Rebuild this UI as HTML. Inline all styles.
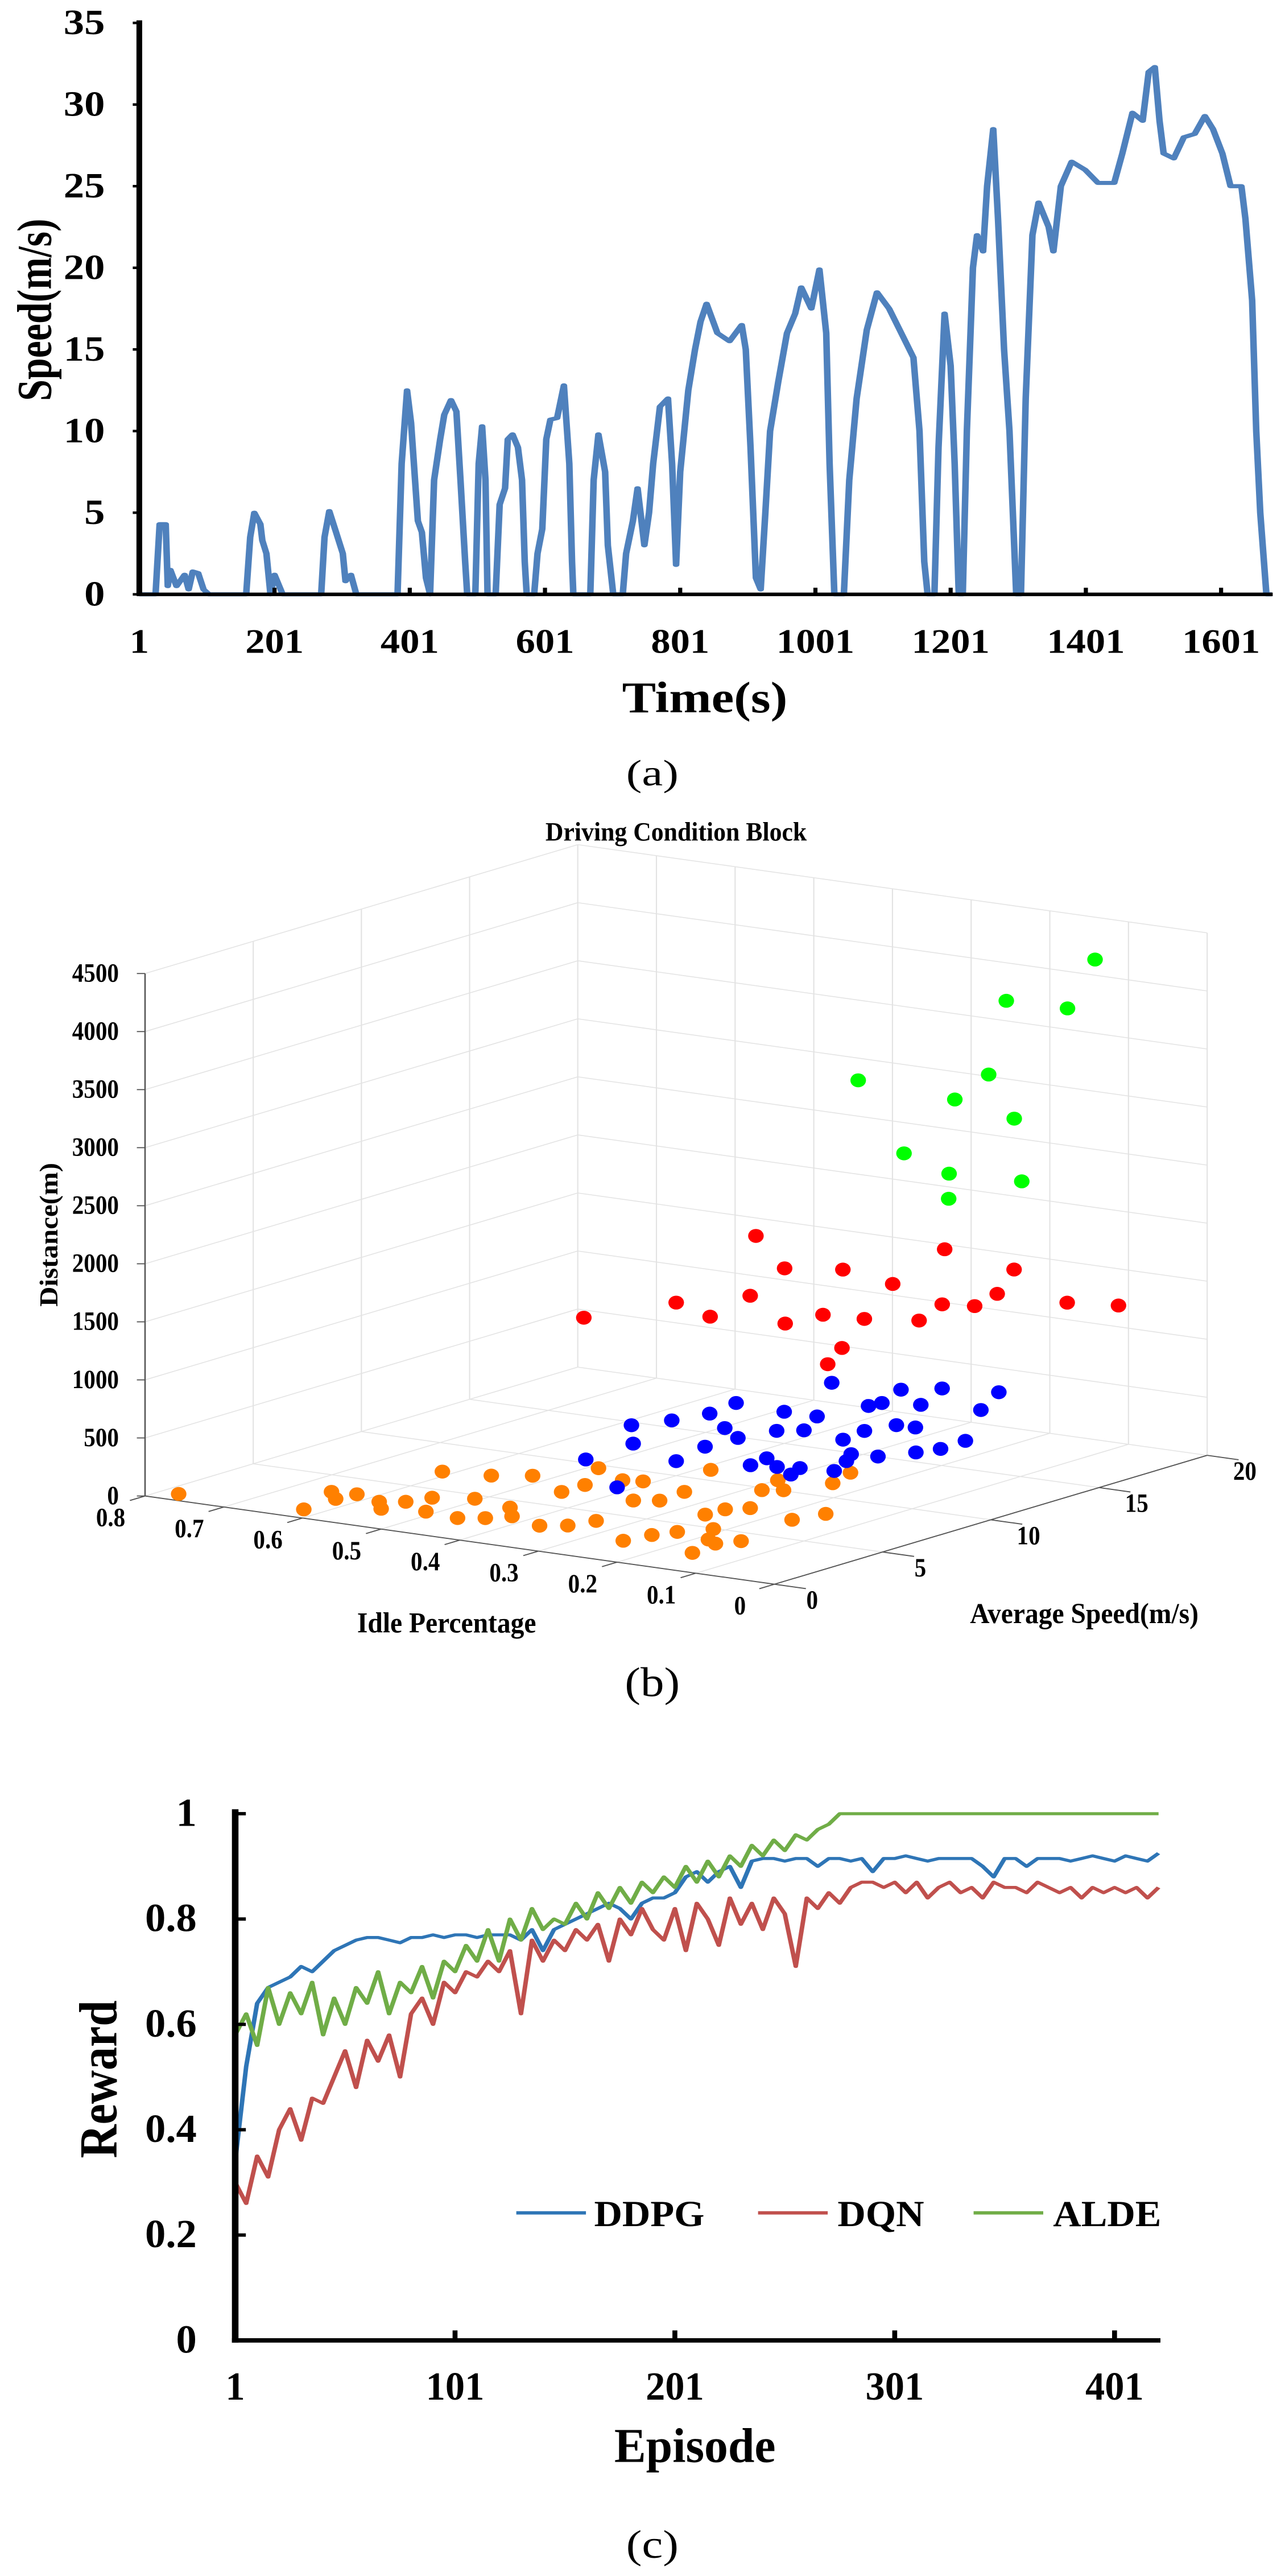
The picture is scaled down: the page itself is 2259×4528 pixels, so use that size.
<!DOCTYPE html>
<html><head><meta charset="utf-8"><style>
html,body{margin:0;padding:0;background:#fff;}
svg{display:block;}
text{font-family:"Liberation Serif",serif;fill:#000;}
</style></head><body>
<svg id="fig" width="2259" height="4528" viewBox="0 0 2259 4528" xmlns="http://www.w3.org/2000/svg">
<rect width="2259" height="4528" fill="#fff"/>
<g id="ga" transform="scale(1.4407,0.8929)"></g>
<g id="gb" transform="translate(0,1400) scale(1.4407,1.0204)"></g>
<g id="gc" transform="translate(0,3000) scale(1.4407,0.9745)"></g>
</svg>
<script>
// ---------- Chart (a) data ----------
const timeA=[1,25,31,40,43,47,56,68,74,80,88,96,104,159,165,171,180,183,189,195,201,213,270,275,282,292,302,306,314,322,383,389,397,403,413,419,425,431,437,446,452,462,470,476,483,486,498,503,508,513,516,528,534,542,546,553,561,567,571,574,585,590,597,603,609,619,629,637,641,643,668,673,680,690,694,702,716,721,731,738,748,755,761,771,783,789,795,801,813,823,831,840,856,874,892,898,905,913,920,927,934,946,959,971,980,995,1007,1017,1022,1029,1043,1051,1062,1077,1092,1110,1128,1146,1155,1162,1167,1177,1183,1192,1201,1207,1213,1219,1225,1234,1240,1249,1255,1264,1271,1280,1288,1298,1305,1312,1322,1331,1346,1353,1364,1380,1400,1419,1443,1455,1470,1485,1494,1503,1510,1516,1531,1546,1562,1577,1589,1603,1615,1631,1637,1647,1653,1659,1668,1676];
const speedA=[0,0,4.3,4.3,0.5,1.5,0.5,1.2,0.3,1.4,1.3,0.3,0,0,3.5,5,4.3,3.3,2.5,0,1.2,0,0,3.5,5.1,3.8,2.5,0.8,1.2,0,0,8,12.5,10.5,4.5,3.8,1,0,7,9.5,11,11.9,11.2,7,2,0,0,8,10.3,7,0,0,5.5,6.5,9.5,9.8,9,7,2,0,0,2.5,4,9.5,10.7,10.8,12.8,8,2,0,0,7,9.8,7.5,3,0,0,2.5,4.5,6.5,3,5,8,11.5,12,8,1.8,7.5,12.5,15,16.7,17.8,16,15.5,16.5,15,9,1,0.3,5,10,13,16,17.2,18.8,17.5,19.9,16,8,0,0,7,12,16.2,18.5,17.5,16,14.5,10,2,0,0,9,17.2,14,8,0,0,10,20,22,21,25,28.5,23,15,10,0,0,12,22,24,22.5,21,25,26.5,26,25.2,25.2,27,29.5,29,32,32.3,29,27,26.7,28,28.2,29.3,28.5,27,25,25,23,18,10,5,0,0];
const yTicksA=[0,5,10,15,20,25,30,35];
const xTicksA=[1,201,401,601,801,1001,1201,1401,1601];

// ---------- Chart (b) data ----------
const orangeIdle=[0.76,0.607,0.634,0.61,0.605,0.564,0.542,0.541,0.495,0.53,0.597,0.449,0.49,0.425,0.543,0.434,0.407,0.507,0.356,0.435,0.332,0.435,0.321,0.472,0.24,0.416,0.348,0.395,0.232,0.325,0.219,0.329,0.145,0.245,0.17,0.37,0.196,0.152,0.243,0.137,0.225,0.267,0.282,0.248,0.155,0.143,0.226,0.241];
const orangeSpeed=[0.1,0.32,2.58,1.9,2.7,2.24,1.53,2.63,1.89,3.45,6.36,1.68,3.97,2.09,6.66,3.56,2.67,7.26,2.09,5.98,2.52,7.06,3.43,9.03,1.74,8.11,6.13,8.29,2.77,6.51,3.47,7.8,1.48,5.71,3.13,10.51,4.3,2.8,6.56,3.44,7.06,9.13,10.41,9.44,6.45,7.57,10.91,12.28];
const orangeDist=[50,50,50,50,50,50,50,50,50,50,50,50,50,50,50,50,50,50,50,50,50,50,50,50,50,50,50,50,50,50,50,50,50,50,50,50,50,50,50,50,50,50,50,50,50,50,50,50];
const blueIdle=[0.424,0.316,0.484,0.429,0.463,0.341,0.358,0.45,0.395,0.458,0.355,0.265,0.271,0.342,0.237,0.391,0.203,0.214,0.32,0.349,0.434,0.176,0.259,0.194,0.21,0.266,0.335,0.18,0.332,0.255,0.354,0.232,0.159,0.293,0.148,0.322,0.15,0.226,0.262];
const blueSpeed=[6.7,4.22,10.99,9.07,12.09,7.86,9.81,13.37,12.07,14.88,11.22,8.53,9.5,12.54,8.74,14.67,8.14,8.96,13.0,14.66,18.43,9.16,12.59,10.38,11.18,13.83,16.53,11.33,17.04,14.91,18.72,14.95,12.32,17.42,13.06,19.46,14.28,17.76,19.9];
const blueDist=[300,300,300,300,300,300,300,300,300,300,300,300,300,300,300,300,300,300,300,300,300,300,300,300,300,300,300,300,300,300,300,300,300,300,300,300,300,300,300];
const redIdle=[0.399,0.363,0.293,0.319,0.353,0.234,0.208,0.201,0.188,0.223,0.18,0.153,0.23,0.101,0.128,0.151,0.095,0.111,0.167,0.025,0.006];
const redSpeed=[5.7,8.66,7.68,10.48,11.98,8.98,8.06,9.55,9.3,11.23,9.71,9.72,13.83,10.36,12.41,13.36,12.71,14.33,17.15,14.44,16.12];
const redDist=[1600,1600,1600,1600,2000,2000,1600,1600,1200,1200,2000,1600,1600,1600,1600,2000,1600,1600,1600,1600,1500];
const greenIdle=[0.278,0.195,0.097,0.092,0.139,0.182,0.145,0.133,0.113,0.07,0.087];
const greenSpeed=[13.98,13.08,11.6,11.4,13.39,16.52,15.99,15.92,15.54,16.09,17.98];
const greenDist=[3300,2800,2800,2600,3300,3300,4000,3000,2500,4000,4300];
const zTicksB=[0,500,1000,1500,2000,2500,3000,3500,4000,4500];
const idleTicksB=[0.8,0.7,0.6,0.5,0.4,0.3,0.2,0.1,0];
const speedTicksB=[0,5,10,15,20];

// ---------- Chart (c) data ----------
const episodesC=[1,6,11,16,21,26,31,36,41,46,51,56,61,66,71,76,81,86,91,96,101,106,111,116,121,126,131,136,141,146,151,156,161,166,171,176,181,186,191,196,201,206,211,216,221,226,231,236,241,246,251,256,261,266,271,276,281,286,291,296,301,306,311,316,321,326,331,336,341,346,351,356,361,366,371,376,381,386,391,396,401,406,411,416,421];
const ddpgC=[0.34,0.52,0.64,0.67,0.68,0.69,0.71,0.70,0.72,0.74,0.75,0.76,0.765,0.765,0.76,0.755,0.765,0.765,0.77,0.765,0.77,0.77,0.765,0.77,0.77,0.77,0.76,0.78,0.74,0.78,0.79,0.80,0.81,0.82,0.83,0.82,0.80,0.83,0.84,0.84,0.85,0.88,0.89,0.87,0.89,0.90,0.86,0.91,0.915,0.915,0.91,0.915,0.915,0.90,0.915,0.915,0.91,0.915,0.89,0.915,0.915,0.92,0.915,0.91,0.915,0.915,0.915,0.915,0.90,0.88,0.915,0.915,0.90,0.915,0.915,0.915,0.91,0.915,0.92,0.915,0.91,0.92,0.915,0.91,0.925];
const dqnC=[0.30,0.26,0.35,0.31,0.40,0.44,0.38,0.46,0.45,0.50,0.55,0.48,0.57,0.53,0.58,0.50,0.62,0.65,0.60,0.68,0.66,0.70,0.69,0.72,0.70,0.74,0.62,0.76,0.72,0.76,0.74,0.78,0.76,0.79,0.72,0.80,0.77,0.82,0.78,0.76,0.82,0.74,0.83,0.80,0.75,0.84,0.79,0.83,0.78,0.84,0.81,0.71,0.84,0.82,0.85,0.83,0.86,0.87,0.87,0.86,0.87,0.85,0.87,0.84,0.86,0.87,0.85,0.86,0.84,0.87,0.86,0.86,0.85,0.87,0.86,0.85,0.86,0.84,0.86,0.85,0.86,0.85,0.86,0.84,0.86];
const aldeC=[0.58,0.62,0.56,0.67,0.60,0.66,0.62,0.68,0.58,0.65,0.60,0.67,0.64,0.70,0.62,0.68,0.66,0.71,0.65,0.72,0.70,0.75,0.72,0.78,0.72,0.80,0.76,0.82,0.78,0.80,0.79,0.83,0.80,0.85,0.82,0.86,0.83,0.87,0.85,0.88,0.86,0.90,0.87,0.91,0.88,0.92,0.90,0.94,0.92,0.95,0.93,0.96,0.95,0.97,0.98,1.0,1.0,1.0,1.0,1.0,1.0,1.0,1.0,1.0,1.0,1.0,1.0,1.0,1.0,1.0,1.0,1.0,1.0,1.0,1.0,1.0,1.0,1.0,1.0,1.0,1.0,1.0,1.0,1.0,1.0];
const yTicksC=[0,0.2,0.4,0.6,0.8,1];
const yTickLabelsC=['0','0.2','0.4','0.6','0.8','1'];
const xTicksC=[1,101,201,301,401];

const NS='http://www.w3.org/2000/svg';
function mk(parent,tag,name){
  const e=document.createElementNS(NS,tag);
  
  
  parent.appendChild(e);
  return e;
}
function line(p,name,x1,y1,x2,y2,stroke,w){
  const e=mk(p,'line',name);
  e.setAttribute('x1',x1);e.setAttribute('y1',y1);e.setAttribute('x2',x2);e.setAttribute('y2',y2);
  e.setAttribute('stroke',stroke);e.setAttribute('stroke-width',w);
  return e;
}
function txt(p,name,x,y,str,size,anchor,weight,sx,rot,sy){
  const e=mk(p,'text',name);
  e.textContent=str;
  e.setAttribute('font-size',size);
  e.setAttribute('text-anchor',anchor||'middle');
  e.setAttribute('font-weight',weight||'normal');
  let t='translate('+x+','+y+')';
  if(rot) t+=' rotate('+rot+')';
  t+=' scale('+(sx||1)+','+(sy||1)+')';
  e.setAttribute('transform',t);
  return e;
}
function path(p,name,pts,stroke,w){
  const e=mk(p,'path',name);
  e.setAttribute('d','M'+pts.map(q=>q[0].toFixed(1)+','+q[1].toFixed(1)).join('L'));
  e.setAttribute('fill','none');e.setAttribute('stroke',stroke);e.setAttribute('stroke-width',w);
  e.setAttribute('stroke-linejoin','round');
  return e;
}

// ---------- Chart (a) ----------
(function(){
  const g=document.getElementById('ga');
  const xA=t=>170+(t-1)*0.825, yA=v=>1170-v*32.14;
  path(g,'speed-line',timeA.map((t,i)=>[xA(t),yA(speedA[i])]),'#4f81bd',8);
  line(g,'y-axis',170,40,170,1173,'#000',7);
  line(g,'x-axis',167,1170,1553,1170,'#000',7);
  yTicksA.forEach(v=>{
    line(g,'y-tick',162,yA(v),170,yA(v),'#000',5);
    txt(g,'y-tick-label',128,yA(v)+22,String(v),70,'end','bold',0.72);
  });
  xTicksA.forEach(t=>{
    line(g,'x-tick',xA(t),1157,xA(t),1170,'#000',5);
    txt(g,'x-tick-label',xA(t),1285,String(t),68,'middle','bold',0.7);
  });
  txt(g,'x-axis-title',860,1402,'Time(s)',86,'middle','bold',0.72);
  txt(g,'y-axis-title',62,610,'Speed(m/s)',76,'middle','bold',1,-90,0.78);
  txt(g,'caption-a',796,1546,'(a)',72,'middle','normal',0.8);
})();

// ---------- Chart (b) ----------
(function(){
  const g=document.getElementById('gb');
  function proj(idle,speed,z){
    const u=(0.8-idle)/0.8, v=speed/20;
    return [177+768*u+528*v, 1205+152*u-222*v-0.2*z];
  }
  const gc='#e3e3e3';
  [5,10,15,20].forEach(s=>{const a=proj(0.8,s,0),b=proj(0.8,s,4500);line(g,'grid-line',a[0],a[1],b[0],b[1],gc,1.5);});
  zTicksB.forEach(z=>{if(!z)return;const a=proj(0.8,0,z),b=proj(0.8,20,z);line(g,'grid-line',a[0],a[1],b[0],b[1],gc,1.5);});
  [0.7,0.6,0.5,0.4,0.3,0.2,0.1,0].forEach(i=>{const a=proj(i,20,0),b=proj(i,20,4500);line(g,'grid-line',a[0],a[1],b[0],b[1],gc,1.5);});
  zTicksB.forEach(z=>{if(!z)return;const a=proj(0.8,20,z),b=proj(0,20,z);line(g,'grid-line',a[0],a[1],b[0],b[1],gc,1.5);});
  [0.7,0.6,0.5,0.4,0.3,0.2,0.1].forEach(i=>{const a=proj(i,0,0),b=proj(i,20,0);line(g,'grid-line',a[0],a[1],b[0],b[1],gc,1.5);});
  [5,10,15,20].forEach(s=>{const a=proj(0.8,s,0),b=proj(0,s,0);line(g,'grid-line',a[0],a[1],b[0],b[1],gc,1.5);});
  {const a=proj(0.8,0,0),b=proj(0.8,20,0);line(g,'grid-line',a[0],a[1],b[0],b[1],gc,1.5);}
  const ac='#555';
  {const a=proj(0.8,0,0),b=proj(0.8,0,4500);line(g,'z-axis',a[0],a[1],b[0],b[1],ac,1.8);}
  {const a=proj(0.8,0,0),b=proj(0,0,0);line(g,'idle-axis',a[0],a[1],b[0],b[1],ac,1.8);}
  {const a=proj(0,0,0),b=proj(0,20,0);line(g,'speed-axis',a[0],a[1],b[0],b[1],ac,1.8);}
  zTicksB.forEach(z=>{const a=proj(0.8,0,z);line(g,'z-tick',a[0]-10,a[1],a[0],a[1],ac,1.8);
    txt(g,'z-tick-label',145,a[1]+14,String(z),46,'end','bold',0.62);});
  idleTicksB.forEach(i=>{const a=proj(i,0,0),b=proj(i,-0.7,0);line(g,'idle-tick',a[0],a[1],b[0],b[1],ac,1.8);
    txt(g,'idle-tick-label',a[0]-42,a[1]+52,String(i),46,'middle','bold',0.62);});
  speedTicksB.forEach(s=>{const a=proj(0,s,0),b=proj(-0.04,s,0);line(g,'speed-tick',a[0],a[1],b[0],b[1],ac,1.8);
    txt(g,'speed-tick-label',a[0]+46,a[1]+42,String(s),46,'middle','bold',0.62);});
  txt(g,'chart-title',825,76,'Driving Condition Block',46,'middle','bold',0.66);
  txt(g,'idle-axis-title',545,1440,'Idle Percentage',50,'middle','bold',0.66);
  txt(g,'speed-axis-title',1323,1424,'Average Speed(m/s)',50,'middle','bold',0.66);
  txt(g,'z-axis-title',70,755,'Distance(m)',48,'middle','bold',1,-90,0.66);
  function pts(I,S,D,col,name){
    I.forEach((idle,k)=>{
      const p=proj(idle,S[k],D[k]);
      const e=mk(g,'ellipse',name);
      e.setAttribute('cx',p[0].toFixed(1));e.setAttribute('cy',p[1].toFixed(1));
      e.setAttribute('rx',9.5);e.setAttribute('ry',12);e.setAttribute('fill',col);
    });
  }
  pts(orangeIdle,orangeSpeed,orangeDist,'#ff8000','orange-point');
  pts(blueIdle,blueSpeed,blueDist,'#0000ff','blue-point');
  pts(redIdle,redSpeed,redDist,'#ff0000','red-point');
  pts(greenIdle,greenSpeed,greenDist,'#00ff00','green-point');
  txt(g,'caption-b',796,1550,'(b)',72,'middle','normal',0.8);
})();

// ---------- Chart (c) ----------
(function(){
  const g=document.getElementById('gc');
  const xC=e=>287+(e-1)*2.6825, yC=r=>1143-r*950;
  path(g,'ddpg-line',episodesC.map((e,i)=>[xC(e),yC(ddpgC[i])]),'#2e75b6',5.5);
  path(g,'dqn-line',episodesC.map((e,i)=>[xC(e),yC(dqnC[i])]),'#c0504d',5.5);
  path(g,'alde-line',episodesC.map((e,i)=>[xC(e),yC(aldeC[i])]),'#70ad47',5.5);
  line(g,'y-axis',287,185,287,1147,'#000',8);
  line(g,'x-axis',283,1143,1416,1143,'#000',8);
  yTicksC.forEach((v,i)=>{
    line(g,'y-tick',287,yC(v),300,yC(v),'#000',6);
    txt(g,'y-tick-label',240,yC(v)+22,yTickLabelsC[i],72,'end','bold',0.7);
  });
  xTicksC.forEach(e=>{
    line(g,'x-tick',xC(e),1125,xC(e),1143,'#000',6);
    txt(g,'x-tick-label',xC(e),1250,String(e),72,'middle','bold',0.66);
  });
  txt(g,'x-axis-title',848,1362,'Episode',88,'middle','bold',0.66);
  txt(g,'y-axis-title',142,672,'Reward',84,'middle','bold',1,-90,0.78);
  const leg=[['DDPG','#2e75b6',630,725],['DQN','#c0504d',925,1022],['ALDE','#70ad47',1188,1285]];
  leg.forEach(l=>{
    line(g,'legend-swatch-'+l[0].toLowerCase(),l[2],913,l[2]+85,913,l[1],6);
    txt(g,'legend-label-'+l[0].toLowerCase(),l[3],937,l[0],66,'start','bold',0.72);
  });
  txt(g,'caption-c',796,1535,'(c)',72,'middle','normal',0.8);
})();
</script>
</body></html>
